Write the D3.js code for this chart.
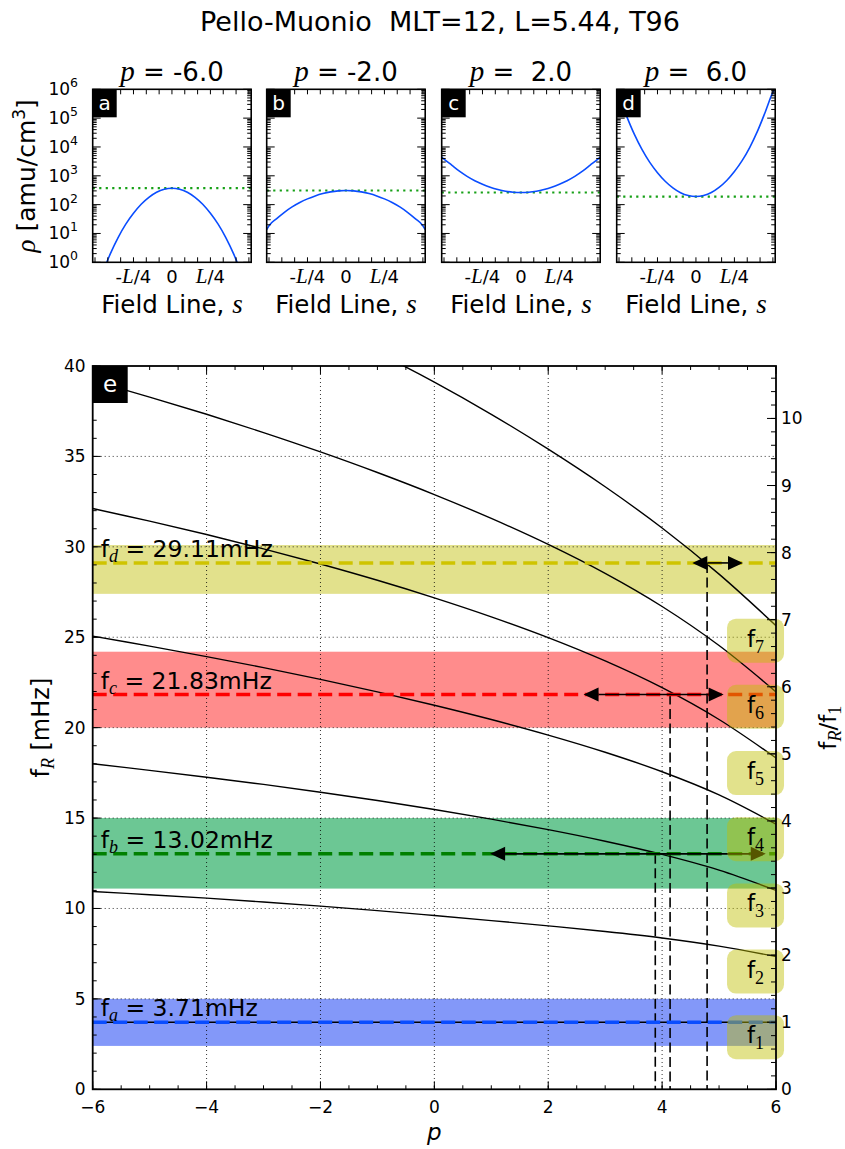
<!DOCTYPE html>
<html>
<head>
<meta charset="utf-8">
<script src="https://cdnjs.cloudflare.com/ajax/libs/d3/7.8.5/d3.min.js"></script>
<style>
  body { margin: 0; background: #fff; }
  text { font-family: "DejaVu Sans", sans-serif; white-space: pre; }
</style>
</head>
<body>
<svg id="fig" width="845" height="1149"></svg>
<script>
// ---------------- data ----------------
var titleText = "Pello-Muonio  MLT=12, L=5.44, T96";

// small panels: density along the field line
var panelP = ["-6.0", "-2.0", " 2.0", " 6.0"];
var panelTag = ["a", "b", "c", "d"];
var sAlong = [-0.515, -0.5, -0.45, -0.4, -0.35, -0.3, -0.25, -0.2, -0.15, -0.1, -0.05, 0,
              0.05, 0.1, 0.15, 0.2, 0.25, 0.3, 0.35, 0.4, 0.45, 0.5, 0.515];
var rhoA = [0.047, 0.081, 0.44, 2.0, 7.2, 21, 50, 103, 179, 269, 343, 372,
            343, 269, 179, 103, 50, 21, 7.2, 2.0, 0.44, 0.081, 0.047];
var rhoB = [13.5, 18.6, 32.7, 54.2, 83.2, 118.6, 158.5, 201, 242, 277, 301, 309,
            301, 277, 242, 201, 158.5, 118.6, 83.2, 54.2, 32.7, 18.6, 13.5];
var rhoC = [4470, 3800, 2340, 1445, 955, 676, 513, 404, 336, 293, 270, 263,
            270, 293, 336, 404, 513, 676, 955, 1445, 2340, 3800, 4470];
var rhoD = [966000, 571000, 115000, 27200, 8040, 2920, 1280, 646, 382, 259, 206, 191,
            207, 263, 396, 689, 1413, 3370, 9770, 35300, 161000, 794000, 1120000];
var rhoEq = [372, 309, 263, 191];
var sTicks = [-0.25, 0, 0.25];
var sTickLabels = [["-", "L", "/4"], ["0", "", ""], ["", "L", "/4"]];
var rhoTicks = [1, 10, 100, 1e3, 1e4, 1e5, 1e6];

// main panel: resonance frequencies vs p
var pGrid = [-6, -5, -4, -3, -2, -1, 0, 1, 2, 3, 4, 5, 6];
var f1 = [3.71, 3.71, 3.71, 3.71, 3.71, 3.71, 3.71, 3.71, 3.71, 3.71, 3.71, 3.71, 3.71];
var f2 = [10.94, 10.76, 10.57, 10.36, 10.13, 9.88, 9.61, 9.33, 9.04, 8.73, 8.37, 7.92, 7.34];
var f3 = [18.00, 17.64, 17.26, 16.86, 16.43, 15.97, 15.47, 14.94, 14.36, 13.72, 12.99, 12.12, 11.00];
var f4 = [25.06, 24.51, 23.93, 23.32, 22.67, 21.98, 21.24, 20.45, 19.59, 18.64, 17.56, 16.28, 14.66];
var f5 = [32.12, 31.42, 30.68, 29.89, 29.05, 28.15, 27.18, 26.13, 24.98, 23.69, 22.21, 20.45, 18.32];
var f6 = [39.18, 38.28, 37.33, 36.32, 35.25, 34.11, 32.89, 31.57, 30.13, 28.53, 26.70, 24.54, 21.98];
var f7 = [47.40, 46.20, 44.95, 43.65, 42.25, 40.74, 39.11, 37.33, 35.40, 33.32, 31.04, 28.49, 25.64];
var harmonics = [f1, f2, f3, f4, f5, f6, f7];

var obsName = ["a", "b", "c", "d"];
var obsF = [3.71, 13.02, 21.83, 29.11];
var obsLabel = ["3.71mHz", "13.02mHz", "21.83mHz", "29.11mHz"];
var bandLo = [2.4, 11.1, 20.0, 27.4];
var bandHi = [5.0, 15.0, 24.2, 30.1];
var crossP = [null, 3.88, 4.14, 4.79];
var rangeLo = [null, 0.98, 2.62, 4.53];
var rangeHi = [null, 5.82, 5.08, 5.42];

var pTicks = [-6, -4, -2, 0, 2, 4, 6];
var pTickLabels = ["\u22126", "\u22124", "\u22122", "0", "2", "4", "6"];
var fTicks = [0, 5, 10, 15, 20, 25, 30, 35, 40];
var ratioTicks = [0, 1, 2, 3, 4, 5, 6, 7, 8, 9, 10];

// ---------------- style ----------------
var SERIF = "'Liberation Serif', 'DejaVu Serif', serif";
var bandColor = ["#8398f9", "#6cc794", "#ff8c8c", "#e2e18c"];
var lineColor = ["#0a4dff", "#008000", "#ff0000", "#cfc400"];
var boxColor = "#bfbf00";

var svg = d3.select("#fig");

// rich text helper: parts = [{t, i, f, s, dy}]
function rich(t, parts) {
    var cur = 0;
    parts.forEach(function (q) {
        var sh = q.dy || 0;
        var ts = t.append("tspan").text(q.t).attr("dy", sh - cur);
        cur = sh;
        if (q.f) ts.style("font-family", q.f);
        if (q.i) ts.style("font-style", "italic");
        if (q.s) ts.style("font-size", q.s + "px");
    });
    return t;
}

// inward tick marks on one side of a box
function ticks(g, box, side, vals, sc, len) {
    g.append("g").selectAll("line").data(vals).enter().append("line")
        .attr("x1", function (v) { return side == "l" ? box.l : side == "r" ? box.r : sc(v); })
        .attr("x2", function (v) { return side == "l" ? box.l + len : side == "r" ? box.r - len : sc(v); })
        .attr("y1", function (v) { return side == "t" ? box.t : side == "b" ? box.b : sc(v); })
        .attr("y2", function (v) { return side == "t" ? box.t + len : side == "b" ? box.b - len : sc(v); })
        .attr("stroke", "#000").attr("stroke-width", 1);
}

// title
svg.append("text").attr("x", 440).attr("y", 31).attr("text-anchor", "middle")
    .style("font-size", "27px").text(titleText);

// ---------------- small panels ----------------
var panelLeft = [92.7, 266.7, 441.7, 616.7], pw = 158.5;
var rhoSeries = [rhoA, rhoB, rhoC, rhoD];

panelP.forEach(function (pv, i) {
    var box = { l: panelLeft[i], r: panelLeft[i] + pw, t: 89.3, b: 262.3 };
    var sx = d3.scaleLinear().domain([-0.515, 0.515]).range([box.l, box.r]);
    var sy = d3.scaleLog().domain([1, 1e6]).range([box.b, box.t]);
    var g = svg.append("g");

    g.append("clipPath").attr("id", "clipP" + i).append("rect")
        .attr("x", box.l).attr("y", box.t).attr("width", pw).attr("height", box.b - box.t);
    var inner = g.append("g").attr("clip-path", "url(#clipP" + i + ")");

    inner.append("line")
        .attr("x1", box.l).attr("x2", box.r)
        .attr("y1", sy(rhoEq[i])).attr("y2", sy(rhoEq[i]))
        .attr("stroke", "#16a016").attr("stroke-width", 2.2).attr("stroke-dasharray", "2.2,4.3");

    inner.append("path")
        .datum(sAlong.map(function (s, k) { return [s, rhoSeries[i][k]]; }))
        .attr("fill", "none").attr("stroke", lineColor[0]).attr("stroke-width", 1.6)
        .attr("d", d3.line().x(function (d) { return sx(d[0]); })
            .y(function (d) { return sy(d[1]); }).curve(d3.curveMonotoneX));

    // ticks
    var minor = [];
    for (var dd = 0; dd < 6; dd++) for (var k = 2; k < 10; k++) minor.push(k * Math.pow(10, dd));
    ticks(g, box, "l", rhoTicks, sy, 8);
    ticks(g, box, "r", rhoTicks, sy, 8);
    ticks(g, box, "l", minor, sy, 4);
    ticks(g, box, "r", minor, sy, 4);
    var sMinor = d3.range(-6, 7).map(function (k) { return k / 12; });
    ticks(g, box, "b", sMinor, sx, 5);
    ticks(g, box, "t", sMinor, sx, 5);

    g.append("rect").attr("x", box.l).attr("y", box.t).attr("width", pw).attr("height", box.b - box.t)
        .attr("fill", "none").attr("stroke", "#000").attr("stroke-width", 1.6);

    // tag box
    g.append("rect").attr("x", box.l).attr("y", box.t).attr("width", 24).attr("height", 28).attr("fill", "#000");
    g.append("text").attr("x", box.l + 12).attr("y", box.t + 21).attr("text-anchor", "middle")
        .attr("fill", "#fff").style("font-size", "20px").text(panelTag[i]);

    // y tick labels only on first panel
    if (i == 0) {
        rhoTicks.forEach(function (v, k) {
            var t = g.append("text").attr("x", 78).attr("y", sy(v) + 6).attr("text-anchor", "end")
                .style("font-size", "17px");
            rich(t, [{ t: "10" }, { t: String(k), s: 12.5, dy: -8 }]);
        });
        var yl = g.append("text").attr("transform", "translate(35," + ((box.t + box.b) / 2) + ") rotate(-90)")
            .attr("text-anchor", "middle").style("font-size", "25px");
        rich(yl, [{ t: "\u03c1", f: SERIF, i: 1, s: 27 }, { t: " [amu/cm" }, { t: "3", s: 17, dy: -10 }, { t: "]", dy: 0 }]);
    }

    // x tick labels
    sTicks.forEach(function (v, k) {
        var t = g.append("text").attr("x", sx(v)).attr("y", 283).attr("text-anchor", "middle")
            .style("font-size", "18px");
        var lab = sTickLabels[k];
        rich(t, [{ t: lab[0] }, { t: lab[1], f: SERIF, i: 1, s: 21 }, { t: lab[2] }]);
    });

    var xl = g.append("text").attr("x", (box.l + box.r) / 2).attr("y", 313).attr("text-anchor", "middle")
        .style("font-size", "24.5px");
    rich(xl, [{ t: "Field Line, " }, { t: "s", f: SERIF, i: 1, s: 27 }]);

    var ti = g.append("text").attr("x", (box.l + box.r) / 2).attr("y", 81).attr("text-anchor", "middle")
        .style("font-size", "26px");
    rich(ti, [{ t: "p", f: SERIF, i: 1, s: 29 }, { t: " = " + pv }]);
});

// ---------------- main panel ----------------
var M = { l: 92.7, r: 776, t: 366, b: 1089.3 };
var x = d3.scaleLinear().domain([-6, 6]).range([M.l, M.r]);
var y = d3.scaleLinear().domain([0, 40]).range([M.b, M.t]);
var yR = d3.scaleLinear().domain([0, 40 / obsF[0]]).range([M.b, M.t]);

var main = svg.append("g");
main.append("clipPath").attr("id", "clipMain").append("rect")
    .attr("x", M.l).attr("y", M.t).attr("width", M.r - M.l).attr("height", M.b - M.t);
var plot = main.append("g").attr("clip-path", "url(#clipMain)");

// bands
plot.append("g").selectAll("rect").data(obsF).enter().append("rect")
    .attr("x", x(-6)).attr("width", x(6) - x(-6))
    .attr("y", function (d, i) { return y(bandHi[i]); })
    .attr("height", function (d, i) { return y(bandLo[i]) - y(bandHi[i]); })
    .attr("fill", function (d, i) { return bandColor[i]; });

// grid
plot.append("g").selectAll("line").data(pTicks.slice(1, -1)).enter().append("line")
    .attr("x1", x).attr("x2", x).attr("y1", M.t).attr("y2", M.b)
    .attr("stroke", "#000").attr("stroke-width", 0.8).attr("stroke-dasharray", "1,3");
plot.append("g").selectAll("line").data(fTicks.slice(1, -1)).enter().append("line")
    .attr("y1", y).attr("y2", y).attr("x1", M.l).attr("x2", M.r)
    .attr("stroke", "#000").attr("stroke-width", 0.8).attr("stroke-dasharray", "1,3");

// harmonic curves
var fLine = d3.line().x(function (d) { return x(d[0]); }).y(function (d) { return y(d[1]); })
    .curve(d3.curveCatmullRom);
plot.append("g").selectAll("path").data(harmonics).enter().append("path")
    .attr("fill", "none").attr("stroke", "#000").attr("stroke-width", 1.4)
    .attr("d", function (h) { return fLine(pGrid.map(function (p, k) { return [p, h[k]]; })); });

// vertical dashed lines from crossings
plot.append("g").selectAll("line").data(crossP.slice(1)).enter().append("line")
    .attr("x1", x).attr("x2", x)
    .attr("y1", function (d, i) { return y(obsF[i + 1]); }).attr("y2", y(0))
    .attr("stroke", "#000").attr("stroke-width", 1.6).attr("stroke-dasharray", "10,4.5");

// observed frequency dashed lines
plot.append("g").selectAll("line").data(obsF).enter().append("line")
    .attr("x1", x(-6)).attr("x2", x(6)).attr("y1", y).attr("y2", y)
    .attr("stroke", function (d, i) { return lineColor[i]; })
    .attr("stroke-width", 3.5).attr("stroke-dasharray", "14,6.5");

// range arrows
var HL = 15, HW = 7;
[1, 2, 3].forEach(function (i) {
    var yy = y(obsF[i]), xa = x(rangeLo[i]), xb = x(rangeHi[i]);
    plot.append("line").attr("x1", xa + HL).attr("x2", xb - HL).attr("y1", yy).attr("y2", yy)
        .attr("stroke", "#000").attr("stroke-width", 1.6);
    plot.append("path").attr("fill", "#000")
        .attr("d", "M" + xa + "," + yy + "L" + (xa + HL) + "," + (yy - HW) + "L" + (xa + HL) + "," + (yy + HW) + "Z");
    plot.append("path").attr("fill", "#000")
        .attr("d", "M" + xb + "," + yy + "L" + (xb - HL) + "," + (yy - HW) + "L" + (xb - HL) + "," + (yy + HW) + "Z");
});

// labels f_a ... f_d
obsF.forEach(function (f, i) {
    var t = main.append("text").attr("x", x(-5.86)).attr("y", y(f) - 6).style("font-size", "23.5px");
    rich(t, [{ t: "f" }, { t: obsName[i], f: SERIF, i: 1, s: 18, dy: 5 }, { t: " = " + obsLabel[i], dy: 0 }]);
});

// harmonic boxes f_1..f_7 at curve end values
harmonics.forEach(function (h, n) {
    var top = y(h[h.length - 1]) - 7;
    main.append("rect").attr("x", x(5.14)).attr("y", top).attr("width", 57).attr("height", 44)
        .attr("rx", 9).attr("ry", 9).attr("fill", boxColor).attr("fill-opacity", 0.45);
    var t = main.append("text").attr("x", x(5.14) + 28.5).attr("y", top + 28).attr("text-anchor", "middle")
        .style("font-size", "23px");
    rich(t, [{ t: "f" }, { t: String(n + 1), f: SERIF, s: 18, dy: 6 }]);
});

// panel tag e
main.append("rect").attr("x", M.l).attr("y", M.t).attr("width", 35).attr("height", 37).attr("fill", "#000");
main.append("text").attr("x", M.l + 17.5).attr("y", M.t + 26).attr("text-anchor", "middle")
    .attr("fill", "#fff").style("font-size", "23px").text("e");

// ticks
ticks(main, M, "b", pTicks, x, 8);
ticks(main, M, "t", pTicks, x, 8);
ticks(main, M, "b", d3.range(-6, 6.01, 0.5), x, 4);
ticks(main, M, "t", d3.range(-6, 6.01, 0.5), x, 4);
ticks(main, M, "l", fTicks, y, 8);
ticks(main, M, "l", d3.range(0, 40.01, 1), y, 4);
ticks(main, M, "r", ratioTicks, yR, 9);
ticks(main, M, "r", d3.range(0, 10.8, 0.2), yR, 5);

main.append("rect").attr("x", M.l).attr("y", M.t).attr("width", M.r - M.l).attr("height", M.b - M.t)
    .attr("fill", "none").attr("stroke", "#000").attr("stroke-width", 1.8);

// tick labels
main.append("g").selectAll("text").data(pTicks).enter().append("text")
    .attr("x", x).attr("y", M.b + 24).attr("text-anchor", "middle").style("font-size", "17px")
    .text(function (d, i) { return pTickLabels[i]; });
main.append("g").selectAll("text").data(fTicks).enter().append("text")
    .attr("x", M.l - 7).attr("y", function (d) { return y(d) + 6; }).attr("text-anchor", "end")
    .style("font-size", "17px").text(function (d) { return d; });
main.append("g").selectAll("text").data(ratioTicks).enter().append("text")
    .attr("x", M.r + 5).attr("y", function (d) { return yR(d) + 6; })
    .style("font-size", "17px").text(function (d) { return d; });

// axis labels
main.append("text").attr("x", (M.l + M.r) / 2).attr("y", 1140).attr("text-anchor", "middle")
    .style("font-size", "23px").style("font-style", "italic").text("p");
var ylab = main.append("text").attr("transform", "translate(49," + ((M.t + M.b) / 2) + ") rotate(-90)")
    .attr("text-anchor", "middle").style("font-size", "24px");
rich(ylab, [{ t: "f" }, { t: "R", f: SERIF, i: 1, s: 18, dy: 5 }, { t: " [mHz]", dy: 0 }]);
var rlab = main.append("text").attr("transform", "translate(836," + ((M.t + M.b) / 2) + ") rotate(-90)")
    .attr("text-anchor", "middle").style("font-size", "23px");
rich(rlab, [{ t: "f" }, { t: "R", f: SERIF, i: 1, s: 18, dy: 5 }, { t: "/f", dy: 0 }, { t: "1", f: SERIF, s: 18, dy: 5 }]);
</script>
</body>
</html>
